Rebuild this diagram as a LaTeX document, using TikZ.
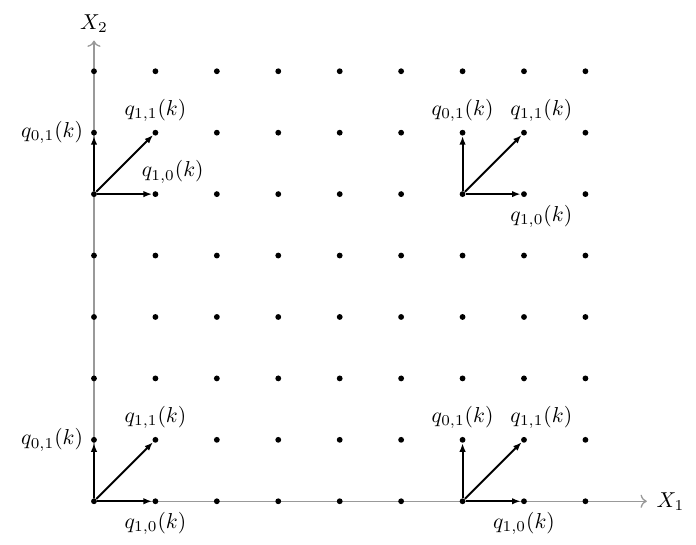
\documentclass[tikz,border=0pt]{standalone}
\usetikzlibrary{positioning,arrows.meta}
\begin{document}
\begin{tikzpicture}[
        dot/.style={circle,fill=black,inner sep=0pt,minimum size=2.7pt},
        vec/.style={-{Latex[length=4pt,width=3pt]},line width=0.9pt},
        axis/.style={->,black!40,semithick}]
        \useasboundingbox (-1.53,-0.70) rectangle (9.80,8.16);

        \coordinate (o) at (0,0);
        \coordinate (x1end) at (9,0);
        \coordinate (x2end) at (0,7.5);

        \draw[axis] (o) -- (x1end);
        \draw[axis] (o) -- (x2end);
        \node[right=1pt of x1end] (X1) {$X_1$};
        \node[above=0pt of x2end] (X2) {$X_2$};

        \foreach \i in {0,...,8}
            \foreach \j in {0,...,7}
                \node[dot] (p-\i-\j) at (\i,\j) {};

        \foreach \a/\b in {0/0,0/5,6/0,6/5}{
            \pgfmathtruncatemacro{\c}{\a+1}
            \pgfmathtruncatemacro{\d}{\b+1}
            \draw[vec] (p-\a-\b) -- (p-\c-\b);
            \draw[vec] (p-\a-\b) -- (p-\a-\d);
            \draw[vec] (p-\a-\b) -- (p-\c-\d);
        }

        % lower left
        \node[below=0pt of p-1-0] (q10a) {$q_{1,0}(k)$};
        \node[left=0pt of p-0-1] (q01a) {$q_{0,1}(k)$};
        \node[above=0pt of p-1-1] (q11a) {$q_{1,1}(k)$};
        % upper left
        \node[above=0pt of p-1-5,xshift=8pt] (q10b) {$q_{1,0}(k)$};
        \node[left=0pt of p-0-6] (q01b) {$q_{0,1}(k)$};
        \node[above=0pt of p-1-6] (q11b) {$q_{1,1}(k)$};
        % lower right
        \node[below=0pt of p-7-0] (q10c) {$q_{1,0}(k)$};
        \node[above=0pt of p-6-1] (q01c) {$q_{0,1}(k)$};
        \node[above=0pt of p-7-1,xshift=8pt] (q11c) {$q_{1,1}(k)$};
        % upper right
        \node[below=0pt of p-7-5,xshift=8pt] (q10d) {$q_{1,0}(k)$};
        \node[above=0pt of p-6-6] (q01d) {$q_{0,1}(k)$};
        \node[above=0pt of p-7-6,xshift=8pt] (q11d) {$q_{1,1}(k)$};
    \end{tikzpicture}
\end{document}
